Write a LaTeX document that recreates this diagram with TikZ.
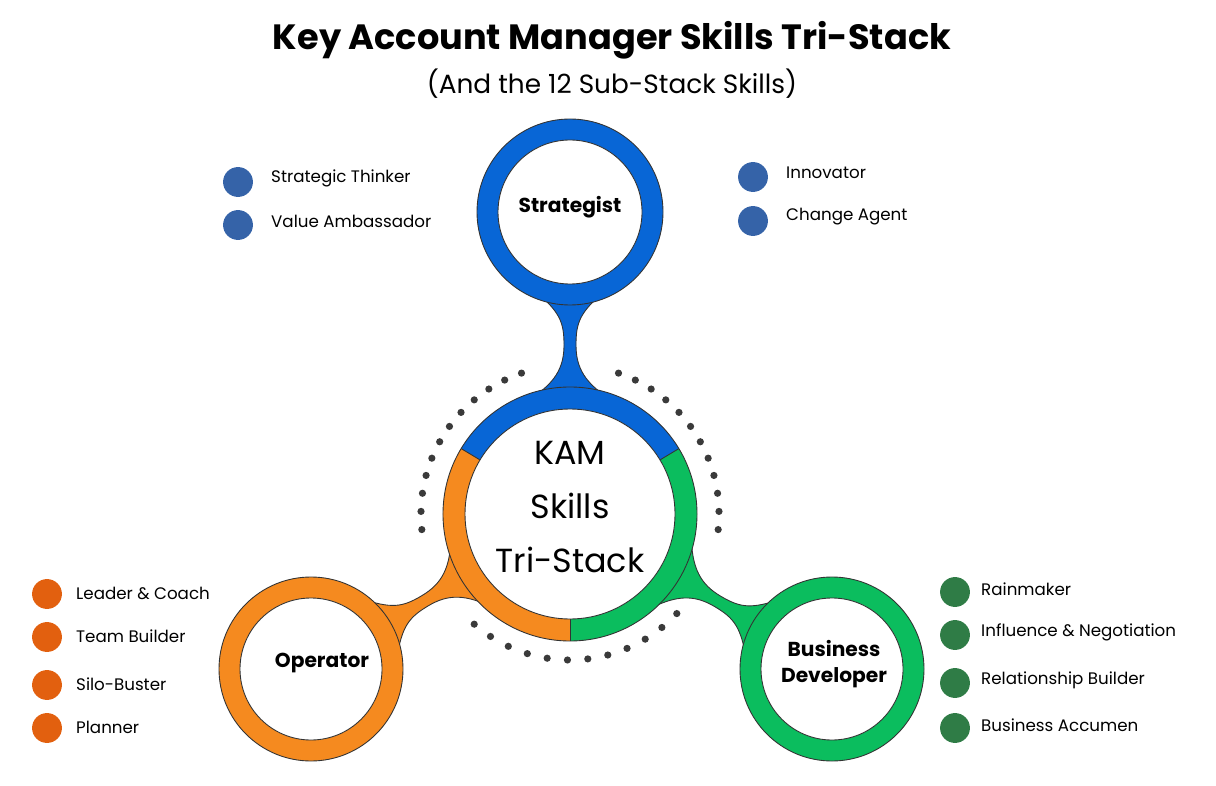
\documentclass[tikz,border=0pt]{standalone}
\usepackage{fontspec}
\setmainfont{Poppins}
\usepackage{tikz}
\usetikzlibrary{positioning,calc}
\definecolor{ringblue}{HTML}{0866D6}
\definecolor{ringorange}{HTML}{F58A1F}
\definecolor{ringgreen}{HTML}{0BBD5E}
\definecolor{dotblue}{HTML}{3563A8}
\definecolor{dotorange}{HTML}{E2600F}
\definecolor{dotgreen}{HTML}{2F7C46}
\definecolor{dotgrey}{HTML}{3A3A3A}
\tikzset{
  bullet/.style={circle,minimum size=17pt,inner sep=0pt},
  skill/.style={right,font=\fontsize{9.5}{11}\selectfont},
  hub/.style={font=\bfseries\fontsize{11.5}{15}\selectfont,align=center},
  neck/.style={draw=black!80,line width=0.5pt}
}
\begin{document}
\begin{tikzpicture}[x=0.02cm,y=0.02cm]
\useasboundingbox (0,0) rectangle (1216,785);

% Title
\node (title) at (612,745) {\bfseries\fontsize{20}{24}\selectfont Key Account Manager Skills Tri-Stack};
\node (subtitle) at (612,701) {\fontsize{15}{18}\selectfont (And the 12 Sub-Stack Skills)};

% Necks between the satellites and the centre
\foreach \px/\py/\ang/\col in {570/573/0/ringblue, 311/116/120.9/ringorange, 832/116/-120.6/ringgreen}
{
  \begin{scope}[shift={(\px,\py)},rotate=\ang]
    \filldraw[neck,fill=\col] (-36,-78) .. controls (-10,-100) and (-6,-110) .. (-6,-133)
      .. controls (-6,-155) and (-14,-172) .. (-45,-190) -- (45,-190)
      .. controls (14,-172) and (6,-155) .. (6,-133)
      .. controls (6,-110) and (10,-100) .. (36,-78) -- cycle;
  \end{scope}
}

% Satellite rings
\filldraw[neck,fill=ringblue] (570,573) circle (93);
\filldraw[neck,fill=white] (570,573) circle (72);
\filldraw[neck,fill=ringorange] (311,116) circle (92);
\filldraw[neck,fill=white] (311,116) circle (71);
\filldraw[neck,fill=ringgreen] (832,116) circle (92);
\filldraw[neck,fill=white] (832,116) circle (71);

% Centre ring in three parts
\coordinate (c) at (570,271);
\fill[ringblue] (c) -- ++(31:127) arc (31:149:127) -- cycle;
\fill[ringorange] (c) -- ++(149:127) arc (149:270:127) -- cycle;
\fill[ringgreen] (c) -- ++(270:127) arc (270:391:127) -- cycle;
\foreach \a in {31,149,270} \draw[neck] ($(c)+(\a:105)$) -- ($(c)+(\a:127)$);
\draw[neck] (c) circle (127);
\filldraw[neck,fill=white] (c) circle (105);

% Dotted arcs
\foreach \a in {109,116,...,186} \fill[dotgrey] ($(c)+(\a:149)$) circle (3.6);
\foreach \a in {71,64,...,-8} \fill[dotgrey] ($(c)+(\a:149)$) circle (3.6);
\foreach \a in {229,237,...,317} \fill[dotgrey] ($(c)+(\a:146)$) circle (3.6);

% Labels in the rings
\node[hub] (strategist) at (570,578) {Strategist};
\node[hub] (operator) at (322,122) {Operator};
\node[hub] (developer) at (834,121) {Business\\Developer};
\node[align=center,font=\fontsize{19}{31}\selectfont] (kam) at (570,278) {KAM\\Skills\\Tri-Stack};

% Sub-stack skills
\foreach \y/\t [count=\i] in {603/Strategic Thinker, 560/Value Ambassador}
{
  \node[bullet,fill=dotblue] (sb\i) at (238,\y) {};
  \node[skill] (st\i) at (265,\y+4) {\t};
}
\foreach \y/\t [count=\i] in {608/Innovator, 564/Change Agent}
{
  \node[bullet,fill=dotblue] (ib\i) at (753,\y) {};
  \node[skill] (it\i) at (780,\y+4) {\t};
}
\foreach \y/\t [count=\i] in {191/Leader \& Coach, 148/Team Builder, 100/Silo-Buster, 57/Planner}
{
  \node[bullet,fill=dotorange] (ob\i) at (47,\y) {};
  \node[skill] (ot\i) at (70,\y+1) {\t};
}
\foreach \y/\t [count=\i] in {193/Rainmaker, 150/Influence \& Negotiation, 102/Relationship Builder, 57/Business Accumen}
{
  \node[bullet,fill=dotgreen] (gb\i) at (955,\y) {};
  \node[skill] (gt\i) at (975,\y+3) {\t};
}
\end{tikzpicture}
\end{document}
